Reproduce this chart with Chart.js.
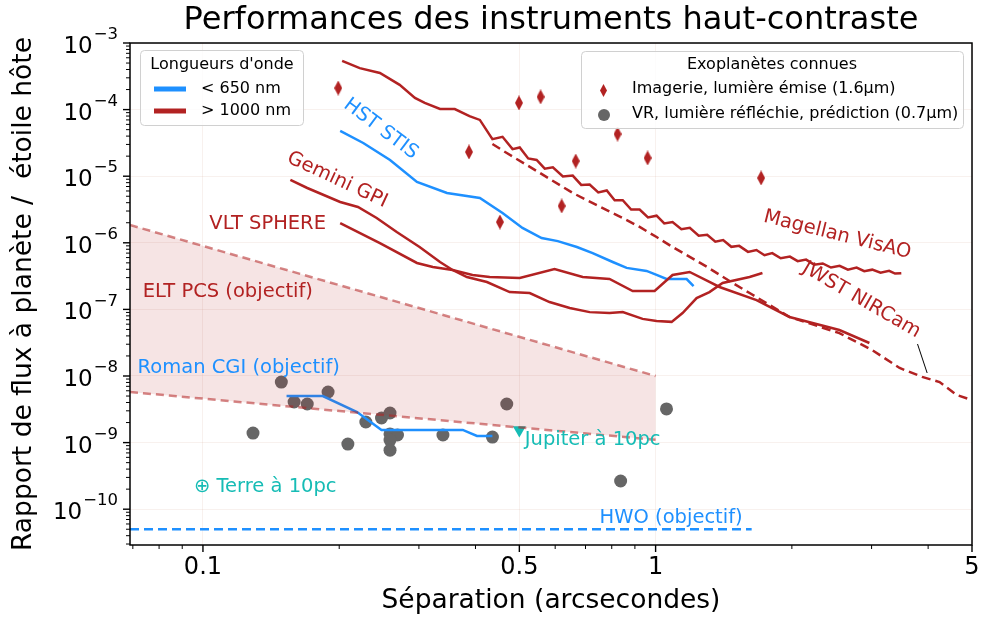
<!DOCTYPE html>
<html>
<head>
<meta charset="utf-8">
<script src="https://cdn.jsdelivr.net/npm/chart.js@4.4.0/dist/chart.umd.min.js"></script>
<style>
  html, body { margin: 0; padding: 0; background: #fff; }
</style>
</head>
<body>
<canvas id="myChart" width="982" height="617"></canvas>
<script>
const FONT = "'DejaVu Sans', sans-serif";
const RED = '#b22222';
const BLUE = '#1e90ff';
const GREY = '#666666';
const TEAL = '#16bcb5';

// separation in arcsec, contrast (planet / star flux)
const magellanSep = [0.203, 0.222, 0.246, 0.272, 0.294, 0.309, 0.334, 0.360, 0.388, 0.409, 0.436, 0.459, 0.483, 0.501,
  0.523, 0.546, 0.569, 0.593, 0.624, 0.656, 0.685, 0.715, 0.747, 0.780, 0.812, 0.846, 0.883, 0.922, 0.962, 1.005,
  1.045, 1.09, 1.14, 1.19, 1.245, 1.30, 1.355, 1.41, 1.47, 1.53, 1.60, 1.67, 1.74, 1.81, 1.89, 1.98, 2.06, 2.15,
  2.24, 2.34, 2.44, 2.55, 2.66, 2.78, 2.89, 3.01, 3.14, 3.28, 3.38, 3.49];
const magellanFlux = [5.4e-4, 4.2e-4, 3.55e-4, 2.35e-4, 1.5e-4, 1.26e-4, 1.02e-4, 1.02e-4, 8.0e-5, 7.0e-5, 3.6e-5, 3.9e-5, 2.55e-5, 2.7e-5,
  1.85e-5, 1.75e-5, 1.3e-5, 1.36e-5, 9.9e-6, 1.02e-5, 7.4e-6, 7.5e-6, 5.7e-6, 6.1e-6, 4.35e-6, 4.35e-6, 3.15e-6, 3.15e-6, 2.4e-6, 2.55e-6,
  1.95e-6, 2.05e-6, 1.6e-6, 1.68e-6, 1.28e-6, 1.32e-6, 1.04e-6, 1.1e-6, 8.7e-7, 9.0e-7, 7.3e-7, 7.8e-7, 6.5e-7, 7.0e-7, 5.85e-7, 6.2e-7, 5.3e-7, 5.6e-7,
  4.7e-7, 4.9e-7, 4.25e-7, 4.5e-7, 3.95e-7, 4.25e-7, 3.75e-7, 3.95e-7, 3.55e-7, 3.8e-7, 3.45e-7, 3.5e-7];

const jwstSep = [0.436, 0.469, 0.555, 0.656, 0.780, 0.846, 0.922, 1.005, 1.09, 1.30, 1.48, 1.613, 1.976, 2.547, 3.01, 3.46, 3.88, 4.24, 4.62, 4.93];
const jwstFlux = [3.04e-5, 2.23e-5, 1.12e-5, 5.6e-6, 3.1e-6, 2.36e-6, 1.73e-6, 1.22e-6, 8.65e-7, 4.33e-7, 2.49e-7, 1.76e-7, 7.7e-8, 4.4e-8, 2.45e-8, 1.32e-8, 9.7e-9, 8.1e-9, 5.2e-9, 4.5e-9];

const gpiSep = [0.156, 0.170, 0.201, 0.220, 0.242, 0.268, 0.301, 0.334, 0.356, 0.383, 0.424, 0.476, 0.527, 0.583, 0.646, 0.715, 0.791, 0.846, 0.936, 1.005, 1.085, 1.147, 1.232, 1.315, 1.406, 1.613, 1.722];
const gpiFlux = [8.8e-6, 6.65e-6, 4.1e-6, 3.45e-6, 2.36e-6, 1.45e-6, 8.65e-7, 5.15e-7, 3.91e-7, 3.06e-7, 2.58e-7, 1.82e-7, 1.76e-7, 1.29e-7, 1.05e-7, 9.1e-8, 8.8e-8, 9.1e-8, 7.2e-8, 6.7e-8, 6.5e-8, 8.8e-8, 1.48e-7, 1.82e-7, 2.49e-7, 3.06e-7, 3.52e-7];

const sphereSep = [0.201, 0.246, 0.297, 0.322, 0.356, 0.394, 0.430, 0.501, 0.598, 0.690, 0.791, 0.890, 0.995, 1.09, 1.189, 1.315, 1.384, 1.671, 1.976, 2.547, 2.967];
const sphereFlux = [1.98e-6, 9.9e-7, 4.98e-7, 4.33e-7, 3.91e-7, 3.29e-7, 3.06e-7, 2.96e-7, 4.05e-7, 3.06e-7, 2.86e-7, 1.89e-7, 1.89e-7, 3.29e-7, 3.65e-7, 2.58e-7, 2.17e-7, 1.38e-7, 7.7e-8, 4.9e-8, 3.13e-8];

const stisSep = [0.201, 0.226, 0.259, 0.297, 0.346, 0.409, 0.459, 0.508, 0.560, 0.608, 0.670, 0.726, 0.804, 0.863, 0.955, 1.005, 1.057, 1.171, 1.213];
const stisFlux = [4.78e-5, 3.15e-5, 1.75e-5, 8.2e-6, 5.6e-6, 4.7e-6, 2.8e-6, 1.67e-6, 1.18e-6, 1.06e-6, 8.65e-7, 7.0e-7, 5.15e-7, 4.2e-7, 3.78e-7, 3.29e-7, 2.86e-7, 2.86e-7, 2.24e-7];

const romanSep = [0.153, 0.184, 0.219, 0.248, 0.375, 0.403, 0.436];
const romanFlux = [5.0e-9, 5.0e-9, 2.88e-9, 1.55e-9, 1.55e-9, 1.26e-9, 1.26e-9];

const eltSep = [0.069, 1.0];
const eltUpper = [1.85e-6, 1.0e-8];
const eltLower = [5.75e-9, 1.1e-9];

const hwoSep = [0.069, 1.63];
const hwoFlux = [5e-11, 5e-11];

const imagingSep = [0.199, 0.387, 0.453, 0.499, 0.557, 0.620, 0.666, 0.824, 0.960, 1.71];
const imagingFlux = [2.11e-4, 2.31e-5, 2.05e-6, 1.26e-4, 1.55e-4, 3.57e-6, 1.69e-5, 4.3e-5, 1.88e-5, 9.4e-6];

const rvSep = [0.129, 0.149, 0.159, 0.170, 0.189, 0.209, 0.229, 0.248, 0.259, 0.259, 0.269, 0.259, 0.259, 0.339, 0.436, 0.469, 0.837, 1.057];
const rvFlux = [1.39e-9, 8.1e-9, 4.07e-9, 3.8e-9, 5.75e-9, 9.5e-10, 2.04e-9, 2.34e-9, 2.78e-9, 1.35e-9, 1.3e-9, 1.09e-9, 7.7e-10, 1.3e-9, 1.21e-9, 3.8e-9, 2.65e-10, 3.2e-9];

const jupiterSep = [0.5];
const jupiterFlux = [1.55e-9];

const sepTicks = [0.07, 0.08, 0.09, 0.1, 0.2, 0.3, 0.4, 0.5, 0.6, 0.7, 0.8, 0.9, 1, 2, 3, 4, 5];
const sepLabels = [0.1, 0.5, 1, 5];
const fluxDecades = [-10, -9, -8, -7, -6, -5, -4, -3];

const X_MIN = 0.069, X_MAX = 5, Y_MIN = 2.9e-11, Y_MAX = 1e-3;

// text annotations placed in data coordinates
const notes = [
  { text: 'HST STIS', x: 0.247, y: 5.1e-5, rot: 37, color: BLUE },
  { text: 'Gemini GPI', x: 0.198, y: 8.8e-6, rot: 25, color: RED },
  { text: 'VLT SPHERE', x: 0.139, y: 1.91e-6, rot: 0, color: RED },
  { text: 'ELT PCS (objectif)', x: 0.1135, y: 1.82e-7, rot: 0, color: RED },
  { text: 'Roman CGI (objectif)', x: 0.120, y: 1.32e-8, rot: 0, color: BLUE },
  { text: 'Magellan VisAO', x: 2.52, y: 1.31e-6, rot: 14, color: RED },
  { text: 'JWST NIRCam', x: 2.85, y: 1.38e-7, rot: 30, color: RED },
  { text: 'Jupiter à 10pc', x: 0.514, y: 1.09e-9, rot: 0, color: TEAL, align: 'left' },
  { text: '⊕ Terre à 10pc', x: 0.0955, y: 2.15e-10, rot: 0, color: TEAL, align: 'left' },
  { text: 'HWO (objectif)', x: 0.752, y: 7.4e-11, rot: 0, color: BLUE, align: 'left' }
];

function pts(xs, ys) { return xs.map((v, i) => ({ x: v, y: ys[i] })); }

function diamond(w, h, color) {
  const c = document.createElement('canvas');
  c.width = w; c.height = h;
  const g = c.getContext('2d');
  g.fillStyle = color;
  g.beginPath();
  g.moveTo(w / 2, 0); g.lineTo(w, h / 2); g.lineTo(w / 2, h); g.lineTo(0, h / 2);
  g.closePath(); g.fill();
  return c;
}

function isDecade(v) {
  const l = Math.log10(v);
  return Math.abs(l - Math.round(l)) < 1e-6;
}
function isSepLabel(v) {
  return sepLabels.some(s => Math.abs(s - v) < 1e-9);
}

const fluxTicks = [];
for (let d = -11; d <= -3; d++) {
  for (let m = 1; m <= 9; m++) {
    const v = m * Math.pow(10, d);
    if (v >= Y_MIN * 0.999 && v <= Y_MAX * 1.001) fluxTicks.push(v);
  }
}

const line = (label, xs, ys, color, extra) => Object.assign({
  label, data: pts(xs, ys), borderColor: color, backgroundColor: color,
  borderWidth: 2.5, pointRadius: 0, fill: false, tension: 0
}, extra || {});

const decor = {
  id: 'decor',
  afterDatasetsDraw(chart) {
    const { ctx, chartArea: a, scales: { x, y } } = chart;
    ctx.save();

    // title over the plot area
    ctx.fillStyle = '#000';
    ctx.font = '32px ' + FONT;
    ctx.textAlign = 'center';
    ctx.textBaseline = 'middle';
    ctx.fillText('Performances des instruments haut-contraste', (a.left + a.right) / 2, 21);

    // annotations
    notes.forEach(n => {
      ctx.save();
      ctx.translate(x.getPixelForValue(n.x), y.getPixelForValue(n.y));
      ctx.rotate(n.rot * Math.PI / 180);
      ctx.font = '19.5px ' + FONT;
      ctx.fillStyle = n.color;
      ctx.textAlign = n.align || 'center';
      ctx.textBaseline = 'middle';
      ctx.fillText(n.text, 0, 0);
      ctx.restore();
    });

    // leader line for JWST label
    ctx.strokeStyle = '#000';
    ctx.lineWidth = 1;
    ctx.beginPath();
    ctx.moveTo(x.getPixelForValue(3.79), y.getPixelForValue(3.02e-8));
    ctx.lineTo(x.getPixelForValue(3.98), y.getPixelForValue(1.11e-8));
    ctx.stroke();

    // frame
    ctx.strokeStyle = '#000';
    ctx.lineWidth = 1.5;
    ctx.strokeRect(a.left, a.top, a.right - a.left, a.bottom - a.top);

    // tick marks
    x.ticks.forEach(t => {
      const px = x.getPixelForValue(t.value);
      const major = isSepLabel(t.value);
      ctx.lineWidth = major ? 1.4 : 1;
      ctx.beginPath();
      ctx.moveTo(px, a.bottom);
      ctx.lineTo(px, a.bottom + (major ? 7 : 4));
      ctx.stroke();
    });
    y.ticks.forEach(t => {
      const py = y.getPixelForValue(t.value);
      const major = isDecade(t.value);
      ctx.lineWidth = major ? 1.4 : 1;
      ctx.beginPath();
      ctx.moveTo(a.left, py);
      ctx.lineTo(a.left - (major ? 7 : 4), py);
      ctx.stroke();
    });

    // y tick labels 10^n
    ctx.fillStyle = '#000';
    ctx.textBaseline = 'middle';
    ctx.textAlign = 'right';
    fluxDecades.forEach(d => {
      const py = y.getPixelForValue(Math.pow(10, d));
      const exp = '\u2212' + Math.abs(d);
      const right = a.left - 12;
      ctx.font = '16.5px ' + FONT;
      const ew = ctx.measureText(exp).width;
      ctx.fillText(exp, right, py - 8);
      ctx.font = '23px ' + FONT;
      ctx.fillText('10', right - ew - 1, py + 4);
    });

    // legends
    const box = (bx, by, bw, bh) => {
      ctx.beginPath();
      ctx.roundRect(bx + 0.5, by + 0.5, bw, bh, 4);
      ctx.fillStyle = 'rgba(255,255,255,0.85)';
      ctx.fill();
      ctx.strokeStyle = '#d0d0d0';
      ctx.lineWidth = 1;
      ctx.stroke();
    };
    ctx.font = '16px ' + FONT;
    box(140, 50, 163, 75);
    ctx.fillStyle = '#000';
    ctx.textAlign = 'center';
    ctx.fillText("Longueurs d'onde", 222, 65);
    ctx.textAlign = 'left';
    [['< 650 nm', BLUE, 89], ['> 1000 nm', RED, 111]].forEach(([txt, col, ly]) => {
      ctx.strokeStyle = col;
      ctx.lineWidth = 5;
      ctx.beginPath();
      ctx.moveTo(154, ly); ctx.lineTo(186, ly);
      ctx.stroke();
      ctx.fillStyle = '#000';
      ctx.fillText(txt, 201, ly);
    });

    box(581, 51, 382, 77);
    ctx.fillStyle = '#000';
    ctx.textAlign = 'center';
    ctx.fillText('Exoplanètes connues', 772, 65);
    ctx.textAlign = 'left';
    ctx.drawImage(diamond(7, 13, RED), 600, 84);
    ctx.fillText('Imagerie, lumière émise (1.6μm)', 632, 89);
    ctx.fillStyle = GREY;
    ctx.beginPath();
    ctx.arc(604, 115, 6, 0, Math.PI * 2);
    ctx.fill();
    ctx.fillStyle = '#000';
    ctx.fillText('VR, lumière réfléchie, prédiction (0.7μm)', 632, 114);

    ctx.restore();
  }
};

const CHART = document.getElementById('myChart');
const myChart = new Chart(CHART, {
  type: 'line',
  data: {
    datasets: [
      line('ELT PCS haut', eltSep, eltUpper, 'rgba(178,34,34,0.55)', { borderDash: [8, 5], fill: '+1', backgroundColor: 'rgba(178,34,34,0.12)' }),
      line('ELT PCS bas', eltSep, eltLower, 'rgba(178,34,34,0.55)', { borderDash: [8, 5] }),
      line('HWO', hwoSep, hwoFlux, BLUE, { borderDash: [9, 5] }),
      line('Magellan VisAO', magellanSep, magellanFlux, RED),
      line('JWST NIRCam', jwstSep, jwstFlux, RED, { borderDash: [9, 5] }),
      line('Gemini GPI', gpiSep, gpiFlux, RED),
      line('VLT SPHERE', sphereSep, sphereFlux, RED),
      line('HST STIS', stisSep, stisFlux, BLUE),
      line('Roman CGI', romanSep, romanFlux, BLUE),
      { label: 'VR', data: pts(rvSep, rvFlux), showLine: false, pointRadius: 6.5, pointHoverRadius: 6.5,
        backgroundColor: GREY, borderColor: GREY, borderWidth: 0 },
      { label: 'Imagerie', data: pts(imagingSep, imagingFlux), showLine: false,
        pointStyle: diamond(8, 15, RED), pointRadius: 7 },
      { label: 'Jupiter', data: pts(jupiterSep, jupiterFlux), showLine: false, pointStyle: 'triangle',
        rotation: 180, pointRadius: 7.5, backgroundColor: TEAL, borderColor: TEAL, borderWidth: 0 }
    ]
  },
  options: {
    responsive: false,
    animation: false,
    layout: { padding: { left: 0, right: 10, top: 43, bottom: 0 } },
    plugins: {
      legend: { display: false },
      tooltip: { enabled: false },
      title: { display: false }
    },
    scales: {
      x: {
        type: 'logarithmic',
        min: X_MIN, max: X_MAX,
        afterBuildTicks: s => { s.ticks = sepTicks.map(v => ({ value: v })); },
        afterFit: s => { s.height = 72; s.paddingLeft = 0; s.paddingRight = 0; },
        border: { display: false },
        grid: {
          drawTicks: false,
          lineWidth: 1,
          color: c => (c.tick && isSepLabel(c.tick.value)) ? 'rgba(200,150,120,0.13)' : 'rgba(0,0,0,0)'
        },
        ticks: {
          autoSkip: false, maxRotation: 0, padding: 8, color: '#000',
          font: { family: FONT, size: 24 },
          callback: v => isSepLabel(v) ? String(v) : ''
        },
        title: {
          display: true, text: 'Séparation (arcsecondes)', color: '#000',
          font: { family: FONT, size: 26.5, lineHeight: 1.2 }, padding: { top: 0, bottom: 0 }
        }
      },
      y: {
        type: 'logarithmic',
        min: Y_MIN, max: Y_MAX,
        afterBuildTicks: s => { s.ticks = fluxTicks.map(v => ({ value: v })); },
        afterFit: s => { s.width = 130; s.paddingTop = 0; s.paddingBottom = 0; },
        border: { display: false },
        grid: {
          drawTicks: false,
          lineWidth: 1,
          color: c => (c.tick && isDecade(c.tick.value)) ? 'rgba(200,150,120,0.13)' : 'rgba(0,0,0,0)'
        },
        ticks: { autoSkip: false, callback: () => '' },
        title: {
          display: true, text: 'Rapport de flux à planète /  étoile hôte', color: '#000',
          font: { family: FONT, size: 26.5, lineHeight: 1.2 }, padding: { top: 8, bottom: 0 }
        }
      }
    }
  },
  plugins: [decor]
});
</script>
</body>
</html>
